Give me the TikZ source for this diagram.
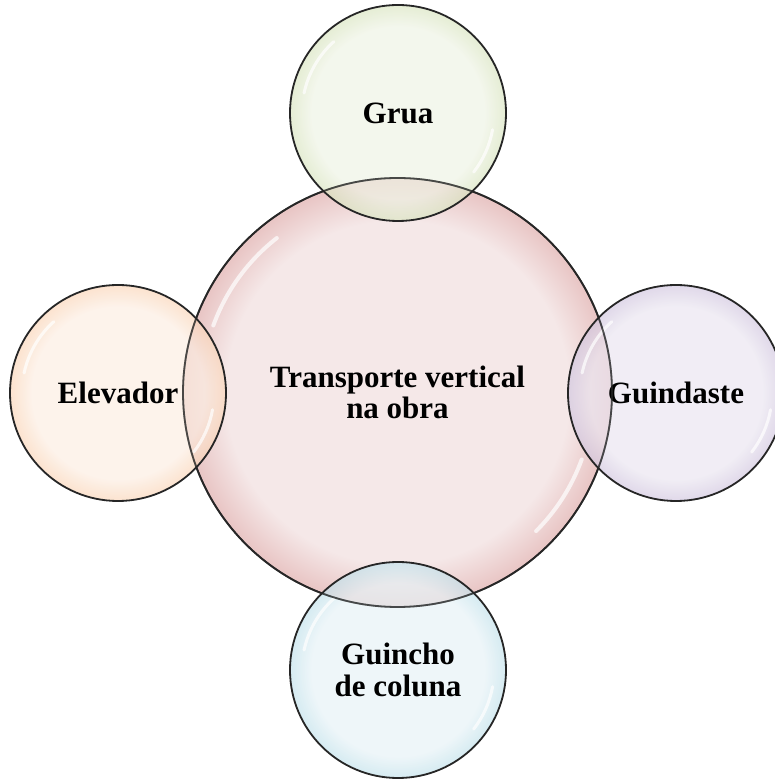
\documentclass[tikz,border=0pt]{standalone}
\usepackage{fontspec}
\setmainfont{Liberation Serif}
\usepackage{tikz}

\definecolor{redin}{HTML}{F5E8E8}
\definecolor{redout}{HTML}{D58F8D}
\definecolor{greenin}{HTML}{EEF3E4}
\definecolor{greenout}{HTML}{B9CF8A}
\definecolor{orangein}{HTML}{FCEDE1}
\definecolor{orangeout}{HTML}{F7B17A}
\definecolor{purplein}{HTML}{EAE5F0}
\definecolor{purpleout}{HTML}{AC98C6}
\definecolor{bluein}{HTML}{E6F2F6}
\definecolor{blueout}{HTML}{8CC9DB}

\colorlet{bubin}{white}
\colorlet{bubout}{gray}
% circle edge lies at about 35bp of the shading
\pgfdeclareradialshading[bubin,bubout]{bubble}{\pgfpoint{0bp}{0bp}}
  {color(0bp)=(bubin); color(20bp)=(bubin); color(32.5bp)=(bubout); color(35.4bp)=(bubout!65!black); color(50bp)=(bubout!65!black)}

\tikzset{
  bubble/.style 2 args={circle, draw=black!85, line width=1.8pt, shade, shading=bubble,
    /utils/exec={\colorlet{bubin}{#1}\colorlet{bubout}{#2}},
    align=center, text=black, text opacity=1,
    font=\fontsize{31}{31.5}\selectfont\bfseries, inner sep=0pt},
  gloss/.style={white, opacity=.7, line width=3pt, line cap=round},
  rim/.style={draw=black!85, line width=1.8pt, opacity=.75}
}

\begin{document}
\begin{tikzpicture}
          [x=1pt,y=1pt,every node/.style={bubble={white}{gray}, minimum size=216pt}]
        \useasboundingbox (0,0) rectangle (774,779);

        \node[bubble={redin}{redout}, minimum size=429pt] (tv) at (397.5,386.5)
          {Transporte vertical\\na obra};
        \draw[gloss, line width=4pt] ([shift={(160:196)}]tv.center) arc[start angle=160, end angle=128, radius=196];
        \draw[gloss, line width=4pt] ([shift={(-20:196)}]tv.center) arc[start angle=-20, end angle=-45, radius=196];

        \foreach \name/\pos/\cin/\cout/\txt in {
            grua/{(398,666)}/greenin/greenout/{Grua},
            elev/{(118,386)}/orangein/orangeout/{Elevador},
            guin/{(676,386)}/purplein/purpleout/{Guindaste},
            gcol/{(398,109)}/bluein/blueout/{Guincho\\de coluna}}
          {
          \node[bubble={\cin}{\cout}, fill opacity=0.68] (\name) at \pos {\txt};
          \draw[gloss] ([shift={(168:96)}]\name.center) arc[start angle=168, end angle=132, radius=96];
          \draw[gloss] ([shift={(-10:96)}]\name.center) arc[start angle=-10, end angle=-38, radius=96];
          }

        % outline of the middle bubble seen through the others
        \draw[rim] (tv.center) circle[radius=214.5];
      \end{tikzpicture}
\end{document}
